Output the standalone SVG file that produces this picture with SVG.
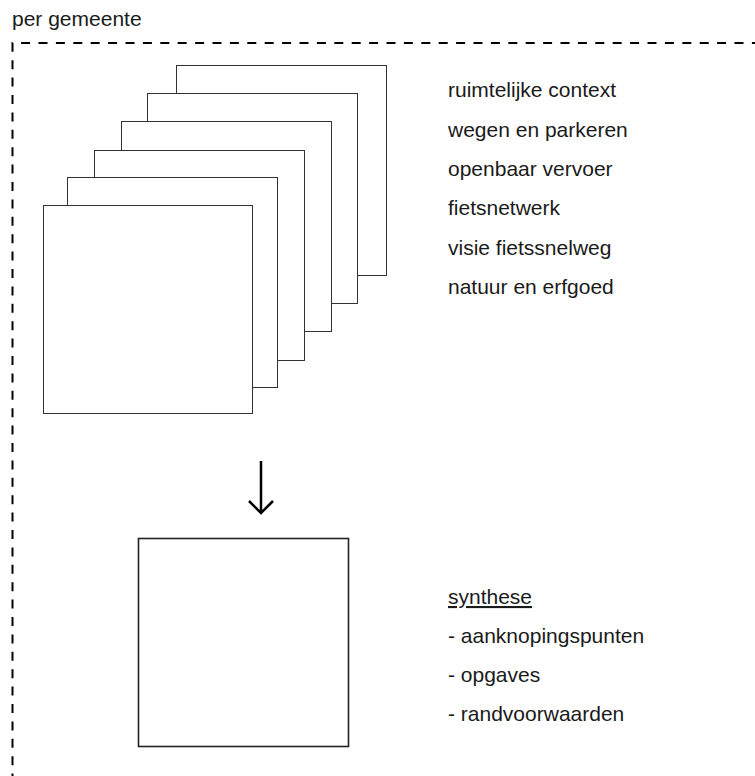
<svg xmlns="http://www.w3.org/2000/svg" width="755" height="776" viewBox="0 0 755 776">
<style>
text{font-family:"Liberation Sans",Arial,sans-serif;font-size:21px;fill:#1a1a1a}
.sheet{fill:#fff;stroke:#333;stroke-width:1}
.frame{fill:none;stroke:#000;stroke-width:2;stroke-dasharray:9 8.4}
</style>
<rect width="755" height="776" fill="#fff"/>
<g id="frame">
<path class="frame" d="M12.5,800 V43 H760"/>
<text x="12" y="26">per gemeente</text>
</g>
<g id="stack">
<rect class="sheet" x="176.5" y="65.5" width="210" height="210"/>
<rect class="sheet" x="147.5" y="93.5" width="210" height="210"/>
<rect class="sheet" x="121.5" y="121.5" width="210" height="210"/>
<rect class="sheet" x="94.5" y="150.5" width="210" height="210"/>
<rect class="sheet" x="67.5" y="177.5" width="210" height="210"/>
<rect class="sheet" x="43.5" y="205.5" width="209" height="208"/>
</g>
<g id="layers">
<text x="448" y="97">ruimtelijke context</text>
<text x="448" y="136.5">wegen en parkeren</text>
<text x="448" y="176">openbaar vervoer</text>
<text x="448" y="215">fietsnetwerk</text>
<text x="448" y="254.5">visie fietssnelweg</text>
<text x="448" y="294">natuur en erfgoed</text>
</g>
<g id="connectors">
<path d="M261,461 V512 M249,501 L261,513 L273,501" fill="none" stroke="#000" stroke-width="2.5"/>
</g>
<g id="synthesis">
<rect x="138.5" y="538.5" width="210" height="208" fill="#fff" stroke="#222" stroke-width="1.6"/>
</g>
<g id="synthesis-text">
<text x="448" y="604" text-decoration="underline">synthese</text>
<text x="448" y="643">- aanknopingspunten</text>
<text x="448" y="682">- opgaves</text>
<text x="448" y="721">- randvoorwaarden</text>
</g>
</svg>
